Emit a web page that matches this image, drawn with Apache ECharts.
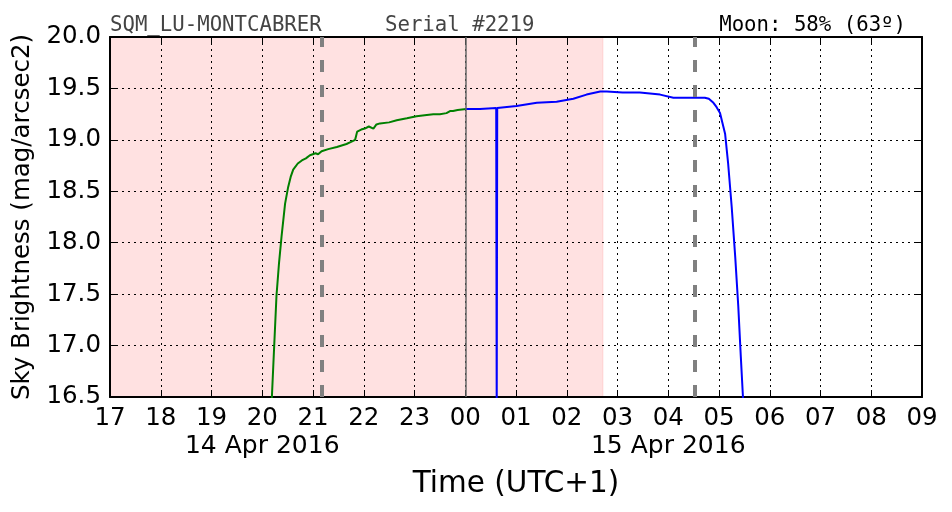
<!DOCTYPE html>
<html>
<head>
<meta charset="utf-8">
<script src="https://cdn.jsdelivr.net/npm/echarts@6/dist/echarts.min.js"></script>
<style>html,body{margin:0;padding:0;background:#fff}#c{width:952px;height:512px}</style>
</head>
<body>
<div id="c"></div>
<script>
// Time in hours since 00:00 of 14 Apr 2016 (values > 24 are 15 Apr)
const greenTimes = [20.18, 20.19, 20.22, 20.28, 20.33, 20.38, 20.45, 20.51, 20.56, 20.61, 20.70, 20.78, 20.86, 20.94, 21.05, 21.10, 21.17, 21.30, 21.47, 21.66, 21.75, 21.83, 21.85, 21.87, 21.95, 22.02, 22.10, 22.19, 22.25, 22.32, 22.50, 22.65, 22.85, 23.04, 23.20, 23.37, 23.50, 23.63, 23.70, 23.76, 23.85, 24.02];
const greenMag   = [16.40, 16.50, 16.83, 17.48, 17.80, 18.06, 18.38, 18.54, 18.64, 18.71, 18.77, 18.80, 18.82, 18.85, 18.87, 18.86, 18.89, 18.91, 18.93, 18.96, 18.98, 19.00, 19.04, 19.08, 19.10, 19.11, 19.13, 19.11, 19.15, 19.16, 19.17, 19.19, 19.21, 19.23, 19.24, 19.25, 19.25, 19.26, 19.28, 19.28, 19.29, 19.30];
const blueTimes = [24.00, 24.29, 24.61, 24.62, 24.62, 24.63, 25.01, 25.41, 25.80, 26.13, 26.39, 26.66, 26.79, 27.10, 27.44, 27.84, 28.10, 28.72, 28.80, 28.89, 28.95, 29.02, 29.12, 29.18, 29.25, 29.32, 29.38, 29.43, 29.47, 29.48];
const blueMag   = [19.30, 19.30, 19.31, 19.31, 16.30, 19.31, 19.33, 19.36, 19.37, 19.40, 19.44, 19.47, 19.47, 19.46, 19.46, 19.44, 19.41, 19.41, 19.40, 19.36, 19.32, 19.26, 19.06, 18.77, 18.35, 17.86, 17.38, 16.89, 16.52, 16.40];
const nightShade = [17.0, 26.71];      // shaded interval
const moonLines = [21.17, 28.53];       // dashed vertical lines
const midnight = [24.0];
const xTicks = [17,18,19,20,21,22,23,24,25,26,27,28,29,30,31,32,33];
const dateLabels = {20: '14 Apr 2016', 28: '15 Apr 2016'};
const yTicks = [16.5, 17.0, 17.5, 18.0, 18.5, 19.0, 19.5, 20.0];
const titleLeft = 'SQM_LU-MONTCABRER';
const titleSerial = 'Serial #2219';
const titleMoon = 'Moon: 58% (63º)';

const chart = echarts.init(document.getElementById('c'));
const sans = 'DejaVu Sans';
const mono = 'DejaVu Sans Mono';
const gData = greenTimes.map((t, i) => [t, greenMag[i]]);
const bData = blueTimes.map((t, i) => [t, blueMag[i]]);
const xMin = xTicks[0], xMax = xTicks[xTicks.length - 1];
const yMin = yTicks[0], yMax = yTicks[yTicks.length - 1];
const grid = {color: '#000', width: 1, type: [2, 4]};

chart.setOption({
  animation: false,
  backgroundColor: '#fff',
  grid: {left: 110, right: 30, top: 37, bottom: 115, containLabel: false},
  graphic: [
    {type: 'text', left: 110, top: 15, style: {text: titleLeft, font: '20.7px "' + mono + '"', fill: '#444'}},
    {type: 'text', left: 385, top: 15, style: {text: titleSerial, font: '20.7px "' + mono + '"', fill: '#444'}},
    {type: 'text', right: 46, top: 15, style: {text: titleMoon, font: '20.7px "' + mono + '"', fill: '#000'}}
  ],
  xAxis: [{
    type: 'value', min: xMin, max: xMax, interval: 1,
    name: 'Time (UTC+1)', nameLocation: 'middle', nameGap: 72,
    nameTextStyle: {fontFamily: sans, fontSize: 29.5, color: '#000'},
    axisLine: {show: true, onZero: false, lineStyle: {color: '#000', width: 2}},
    axisTick: {show: true, inside: true, length: 7, lineStyle: {color: '#000'}},
    axisLabel: {
      fontFamily: sans, fontSize: 24.5, color: '#000', margin: 9,
      formatter: v => {
        const h = String(((v % 24) + 24) % 24).padStart(2, '0');
        return dateLabels[v] ? h + '\n{d|' + dateLabels[v] + '}' : h;
      },
      rich: {d: {fontFamily: sans, fontSize: 25, color: '#000', lineHeight: 30, padding: [1, 0, 0, 0]}},
      lineHeight: 25
    },
    splitLine: {show: true, lineStyle: grid}
  }, {
    type: 'value', position: 'top', min: xMin, max: xMax, interval: 1,
    axisLine: {show: true, onZero: false, lineStyle: {color: '#000', width: 2}},
    axisTick: {show: true, inside: true, length: 7, lineStyle: {color: '#000'}},
    axisLabel: {show: false}, splitLine: {show: false}
  }],
  yAxis: [{
    type: 'value', min: yMin, max: yMax, interval: 0.5,
    name: 'Sky Brightness (mag/arcsec2)', nameLocation: 'middle', nameGap: 71,
    nameTextStyle: {fontFamily: sans, fontSize: 24.5, color: '#000'},
    axisLine: {show: true, onZero: false, lineStyle: {color: '#000', width: 2}},
    axisTick: {show: true, inside: true, length: 7, lineStyle: {color: '#000'}},
    axisLabel: {fontFamily: sans, fontSize: 24.5, color: '#000', margin: 9, formatter: v => v.toFixed(1)},
    splitLine: {show: true, lineStyle: grid}
  }, {
    type: 'value', position: 'right', min: yMin, max: yMax, interval: 0.5,
    axisLine: {show: true, onZero: false, lineStyle: {color: '#000', width: 2}},
    axisTick: {show: true, inside: true, length: 7, lineStyle: {color: '#000'}},
    axisLabel: {show: false}, splitLine: {show: false}
  }],
  series: [
    {
      type: 'line', data: [], silent: true, z: -5,
      markArea: {silent: true, z: -5, itemStyle: {color: '#ffe1e1', borderColor: '#ffd0d0', borderWidth: 1},
        data: [[{xAxis: nightShade[0]}, {xAxis: nightShade[1]}]]}
    },
    {
      type: 'line', data: [], silent: true, z: 2,
      markLine: {silent: true, symbol: 'none', label: {show: false},
        lineStyle: {color: '#666', width: 1.5, type: 'solid'},
        data: midnight.map(v => ({xAxis: v}))}
    },
    {
      type: 'line', data: gData, showSymbol: false, clip: true, z: 4,
      lineStyle: {color: '#008000', width: 2}
    },
    {
      type: 'line', data: bData, showSymbol: false, clip: true, z: 4,
      lineStyle: {color: '#0000ff', width: 2}
    },
    {
      type: 'line', data: [], silent: true, z: 5,
      markLine: {silent: true, symbol: 'none', label: {show: false},
        lineStyle: {color: '#808080', width: 4, type: [12, 13]},
        data: moonLines.map(v => ({xAxis: v}))}
    }
  ]
});
</script>
</body>
</html>
